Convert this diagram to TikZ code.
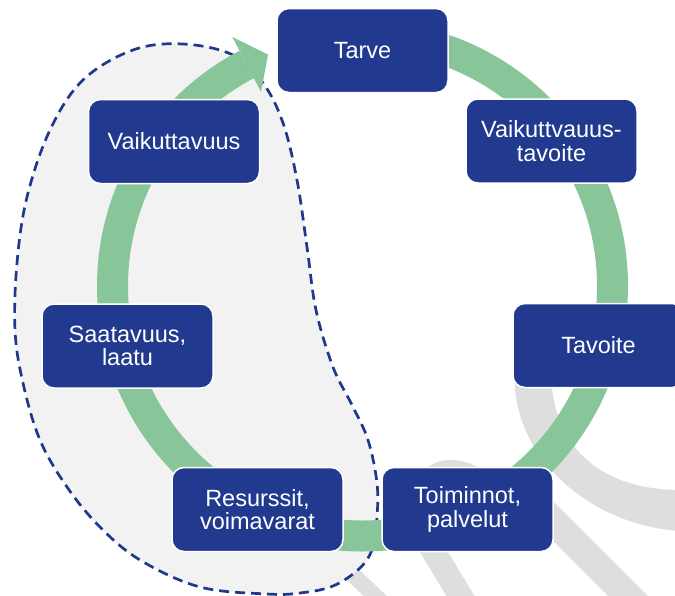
\documentclass[tikz,border=0pt]{standalone}
\usepackage{fontspec}
\setmainfont{Liberation Sans}
\usetikzlibrary{calc}
\definecolor{navy}{RGB}{33,57,143}
\definecolor{ringgreen}{RGB}{136,198,154}
\definecolor{bandgray}{RGB}{222,222,222}
\definecolor{blobgray}{RGB}{242,242,242}
\definecolor{dashblue}{RGB}{31,56,140}
\begin{document}
\begin{tikzpicture}[x=1pt,y=1pt,
  box/.style={draw=white, line width=1.5pt, fill=navy, rounded corners=12pt,
    minimum width=171pt, minimum height=84pt, inner sep=0pt, text=white,
    align=center, font=\fontsize{23.5}{23.5}\selectfont},
  band/.style={draw=bandgray, line width=28pt},
  ring/.style={draw=ringgreen, line width=31pt},
  blob/.style={draw=dashblue, line width=2.7pt, dash pattern=on 10pt off 6pt, fill=blobgray}]
\useasboundingbox (0,0) rectangle (675,-595);
\clip (0,0) rectangle (675,-595);
% background grey bands
\fill[bandgray] (515,-375) -- (515,-388) .. controls (520,-460) and (590,-525) .. (680,-531)
  -- (680,-490) .. controls (615,-490) and (560,-460) .. (552,-388) -- (552,-375) -- cycle;
\fill[bandgray] (418,-478) .. controls (430,-458) and (460,-450) .. (494,-478) -- cycle;
\draw[band] (532,-500) -- (670,-638);
\draw[band, line width=24pt] (420,-529) -- (472,-615);
\draw[band, line width=16pt] (330,-553) -- (392,-612);
% dashed blob
\draw[blob] plot[smooth cycle, tension=0.6] coordinates {(183,-44) (233,-55) (263,-83) (283,-123) (297,-180) (307,-247) (316,-310) (333,-367) (352,-405) (368,-440) (377,-483) (377,-517) (373,-547) (360,-568) (333,-586) (300,-593) (267,-594) (200,-587) (140,-560) (100,-527) (67,-487) (40,-440) (23,-383) (15,-330) (17,-263) (27,-197) (50,-130) (83,-80) (133,-50)};
% ring with arrow
\coordinate (C) at (362.5,-286);
\draw[ring] ($(C)+(90:250)$) arc[start angle=90, end angle=-242.4, radius=250];
\fill[ringgreen] ($(C)+(117.6:281)$) -- ($(C)+(112.2:250)$) -- ($(C)+(117.6:219)$) -- cycle;
% nodes
\node[box] (tarve) at (362.5,-50.5) {Tarve};
\node[box] (vtav) at (551.5,-141) {Vaikuttvauus-\\tavoite};
\node[box] (tavoite) at (598.5,-345.5) {Tavoite};
\node[box] (toim) at (467.5,-509.5) {Toiminnot,\\palvelut};
\node[box] (resu) at (257.5,-509.5) {Resurssit,\\voimavarat};
\node[box] (saat) at (127.5,-346) {Saatavuus,\\laatu};
\node[box] (vaik) at (174,-141.5) {Vaikuttavuus};
\end{tikzpicture}
\end{document}
